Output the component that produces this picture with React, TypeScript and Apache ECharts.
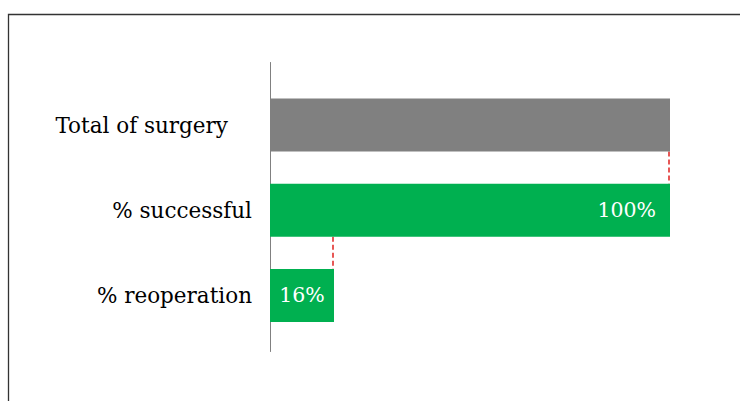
import React, { useEffect, useRef } from "react";
import * as echarts from "echarts";

const categories = ["Total of surgery", "% successful", "% reoperation"];
const values = [100, 100, 16];
const barColors = ["#808080", "#00b050", "#00b050"];
const showValueLabel = [false, true, true];
const labelPositions = ["insideRight", "insideRight", "inside"];

const FONT = "DejaVu Serif";
const BAR_W = 53;

export default function App() {
  const ref = useRef<HTMLDivElement>(null);
  useEffect(() => {
    if (!ref.current) return;
    const chart = echarts.init(ref.current, null, { renderer: "svg" });
    chart.setOption({
      animation: false,
      backgroundColor: "#ffffff",
      grid: { left: 270, width: 400, top: 82.5, height: 255.5 },
      xAxis: {
        type: "value",
        min: 0,
        max: 100,
        show: false,
      },
      yAxis: {
        type: "category",
        inverse: true,
        data: categories,
        axisLine: { show: false },
        axisTick: { show: false },
        axisLabel: {
          margin: 18,
          color: "#000",
          fontFamily: FONT,
          fontSize: 21.5,
          formatter: (v: string) => (v === categories[0] ? "{a|" + v + "}" : "{b|" + v + "}"),
          rich: {
            a: { fontFamily: FONT, fontSize: 21.5, color: "#000", padding: [0, 24, 0, 0] },
            b: { fontFamily: FONT, fontSize: 21.5, color: "#000" },
          },
        },
      },
      series: [
        {
          type: "bar",
          barWidth: BAR_W,
          data: values.map((v, i) => ({
            value: v,
            itemStyle: { color: barColors[i] },
            label: {
              show: showValueLabel[i],
              position: labelPositions[i],
              distance: 14,
              formatter: "{c}%",
              color: "#fff",
              fontFamily: FONT,
              fontSize: 20.5,
            },
          })),
        },
      ],
    });

    const lines: any[] = [];
    for (let i = 0; i < values.length - 1; i++) {
      const a = chart.convertToPixel({ seriesIndex: 0 }, [values[i + 1], i]) as number[];
      const b = chart.convertToPixel({ seriesIndex: 0 }, [values[i + 1], i + 1]) as number[];
      lines.push({
        type: "line",
        shape: { x1: a[0] - 1, y1: a[1] + BAR_W / 2, x2: b[0] - 1, y2: b[1] - BAR_W / 2 },
        style: { stroke: "#e0201e", lineWidth: 1.5, lineDash: [5, 3] },
      });
    }
    const top = chart.convertToPixel({ seriesIndex: 0 }, [0, 0]) as number[];
    const bot = chart.convertToPixel({ seriesIndex: 0 }, [0, values.length - 1]) as number[];
    chart.setOption({
      graphic: [
        {
          type: "rect",
          shape: { x: 8.5, y: 14.5, width: 800, height: 500 },
          style: { fill: "none", stroke: "#333", lineWidth: 1.3 },
        },
        {
          type: "line",
          shape: { x1: top[0] + 0.5, y1: top[1] - 63, x2: bot[0] + 0.5, y2: bot[1] + 56.5 },
          style: { stroke: "#808080", lineWidth: 1 },
        },
        ...lines,
      ],
    });
    return () => chart.dispose();
  }, []);
  return (
    <div
      ref={ref}
      style={{ position: "fixed", left: 0, top: 0, width: 740, height: 401 }}
    />
  );
}
